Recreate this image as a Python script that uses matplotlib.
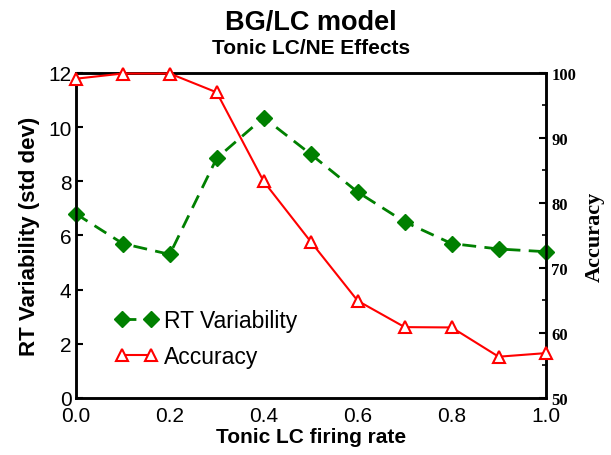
import numpy as np
import matplotlib
matplotlib.use("Agg")
import matplotlib.pyplot as plt
from matplotlib.ticker import MultipleLocator

plt.rcParams['font.family'] = ['Liberation Sans', 'DejaVu Sans']

# --- data ---
firing_rate = [0.0, 0.1, 0.2, 0.3, 0.4, 0.5, 0.6, 0.7, 0.8, 0.9, 1.0]
rt_variability = [6.8, 5.7, 5.3, 8.85, 10.35, 9.0, 7.6, 6.5, 5.7, 5.5, 5.4]
accuracy = [99.1, 99.9, 99.9, 97.0, 83.3, 74.05, 64.95, 60.9, 60.85, 56.35, 56.9]

GREEN = "#008000"
RED = "#ff0000"

fig = plt.figure(figsize=(6.11, 4.56), dpi=100)
ax = fig.add_axes([0.124, 0.125, 0.769, 0.713])
ax2 = ax.twinx()

l1, = ax.plot(firing_rate, rt_variability, color=GREEN, ls=(0, (5, 3)), lw=2,
              marker='D', ms=8, mfc=GREEN, mec=GREEN, clip_on=False, zorder=3)
l2, = ax2.plot(firing_rate, accuracy, color=RED, lw=1.5,
               marker='^', ms=9, mfc='white', mec=RED, mew=1.5, clip_on=False, zorder=3)

ax.set_xlim(0, 1)
ax.set_ylim(0, 12)
ax2.set_ylim(50, 100)
ax.xaxis.set_major_locator(MultipleLocator(0.2))
ax.yaxis.set_major_locator(MultipleLocator(2))
ax2.yaxis.set_major_locator(MultipleLocator(10))
ax2.yaxis.set_minor_locator(MultipleLocator(5))

ax.tick_params(axis='x', length=0, labelsize=15, pad=6)
ax.tick_params(axis='y', direction='in', length=5, width=1.5, labelsize=15, pad=3)
ax2.tick_params(axis='y', which='major', direction='in', length=5, width=1.5, pad=4)
ax2.tick_params(axis='y', which='minor', direction='in', length=3, width=1.2)
ax.xaxis.set_major_formatter(matplotlib.ticker.FormatStrFormatter('%.1f'))
for lab in ax2.get_yticklabels():
    lab.set_fontfamily('Liberation Serif')
    lab.set_fontweight('bold')
    lab.set_fontsize(12)

for a in (ax, ax2):
    for s in a.spines.values():
        s.set_linewidth(1.8)

ax.set_xlabel("Tonic LC firing rate", fontsize=15, fontweight='bold', labelpad=1)
ax.set_ylabel("RT Variability (std dev)", fontsize=16, fontweight='bold', labelpad=6)
ax2.set_ylabel("Accuracy", fontsize=16, fontweight='bold', family='Liberation Serif', labelpad=6)

fig.text(0.509, 0.95, "BG/LC model", ha='center', va='center', fontsize=19.5, fontweight='bold')
fig.text(0.509, 0.893, "Tonic LC/NE Effects", ha='center', va='center', fontsize=15, fontweight='bold')

ax.legend([l1, l2], ["RT Variability", "Accuracy"], loc='center left',
          bbox_to_anchor=(0.064, 0.183), borderaxespad=0, frameon=False, numpoints=2,
          fontsize=16.5, handlelength=1.85, handletextpad=0.3, labelspacing=0.55)

fig.savefig("out.png", dpi=100)
